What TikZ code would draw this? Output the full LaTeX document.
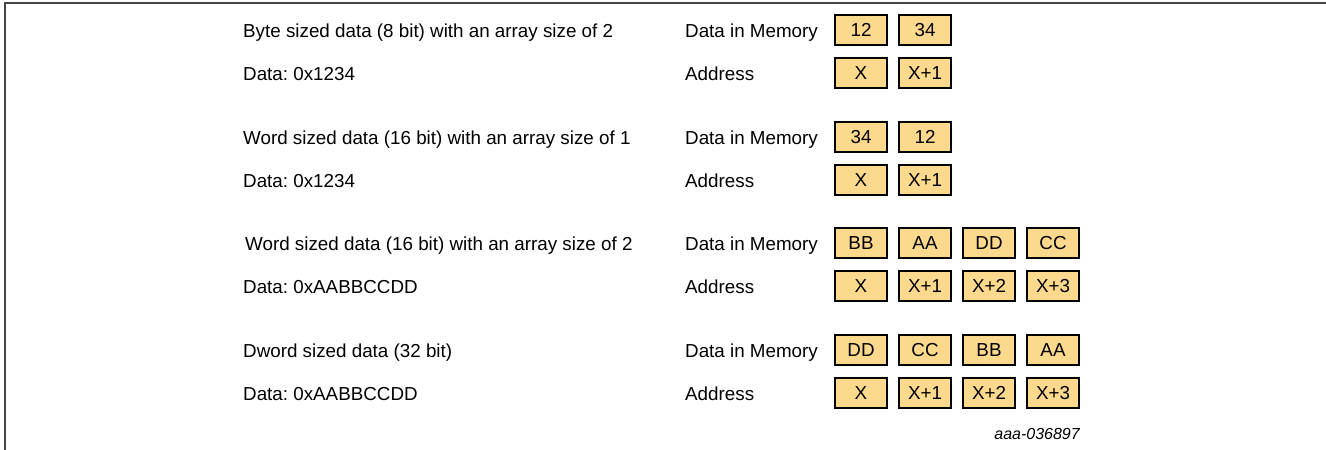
\documentclass[tikz,border=0pt]{standalone}
\usepackage{fontspec}
\setmainfont{Liberation Sans}
\usepackage{tikz}
\usetikzlibrary{positioning}
\definecolor{cellfill}{RGB}{253,217,142}
\definecolor{framegray}{RGB}{70,70,70}
\frenchspacing

\begin{document}
\begin{tikzpicture}[x=1pt,y=-1pt]
\tikzset{
  cell/.style={draw=black, line width=1.5pt, fill=cellfill, minimum width=52pt, minimum height=30pt,
    text height=13.5pt, text depth=0pt, inner sep=0pt, font=\fontsize{18.8}{22}\selectfont},
  lbl/.style={anchor=base west, inner sep=0pt, font=\fontsize{18.8}{22}\selectfont}
}
\useasboundingbox (0,0) rectangle (1326,450);
\draw [framegray, line width=1.3pt] (5,450) -- (5,3) -- (1326,3);
% byte sized, array of 2
\node (byteT) [lbl] at (243,37) {Byte sized data (8 bit) with an array size of 2};
\node (byteD) [lbl] at (243,80) {Data: 0x1234};
\node (byteM) [lbl] at (685,37) {Data in Memory};
\node (byteA) [lbl] at (685,80) {Address};
\node (byteM1) [cell] at (861,30) {12};
\node (byteM2) [cell] at (925,30) {34};
\node (byteA1) [cell] at (861,73) {X};
\node (byteA2) [cell] at (925,73) {X+1};
% word sized, array of 1
\node (wordT) [lbl] at (243,144) {Word sized data (16 bit) with an array size of 1};
\node (wordD) [lbl] at (243,187) {Data: 0x1234};
\node (wordM) [lbl] at (685,144) {Data in Memory};
\node (wordA) [lbl] at (685,187) {Address};
\node (wordM1) [cell] at (861,137) {34};
\node (wordM2) [cell] at (925,137) {12};
\node (wordA1) [cell] at (861,180) {X};
\node (wordA2) [cell] at (925,180) {X+1};
% word sized, array of 2
\node (wordsT) [lbl] at (245,250) {Word sized data (16 bit) with an array size of 2};
\node (wordsD) [lbl] at (243,293) {Data: 0xAABBCCDD};
\node (wordsM) [lbl] at (685,250) {Data in Memory};
\node (wordsA) [lbl] at (685,293) {Address};
\node (wordsM1) [cell] at (861,243) {BB};
\node (wordsM2) [cell] at (925,243) {AA};
\node (wordsM3) [cell] at (989,243) {DD};
\node (wordsM4) [cell] at (1053,243) {CC};
\node (wordsA1) [cell] at (861,286) {X};
\node (wordsA2) [cell] at (925,286) {X+1};
\node (wordsA3) [cell] at (989,286) {X+2};
\node (wordsA4) [cell] at (1053,286) {X+3};
% dword sized
\node (dwordT) [lbl] at (243,357) {Dword sized data (32 bit)};
\node (dwordD) [lbl] at (243,400) {Data: 0xAABBCCDD};
\node (dwordM) [lbl] at (685,357) {Data in Memory};
\node (dwordA) [lbl] at (685,400) {Address};
\node (dwordM1) [cell] at (861,350) {DD};
\node (dwordM2) [cell] at (925,350) {CC};
\node (dwordM3) [cell] at (989,350) {BB};
\node (dwordM4) [cell] at (1053,350) {AA};
\node (dwordA1) [cell] at (861,393) {X};
\node (dwordA2) [cell] at (925,393) {X+1};
\node (dwordA3) [cell] at (989,393) {X+2};
\node (dwordA4) [cell] at (1053,393) {X+3};
\node (figId) [anchor=base east, inner sep=0pt, font=\fontsize{16}{19}\selectfont\itshape] at (1080,439) {aaa-036897};
\end{tikzpicture}
\end{document}
